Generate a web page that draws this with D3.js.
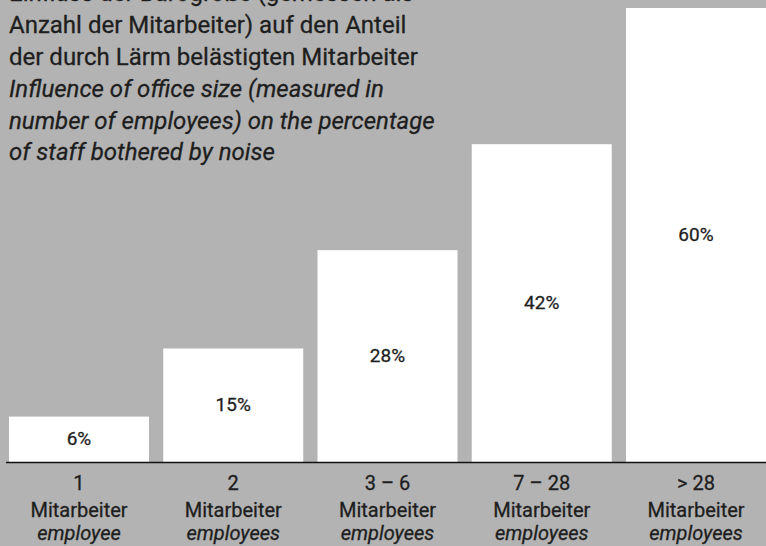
<!DOCTYPE html>
<html lang="de">
<head>
<meta charset="UTF-8">
<title>Bürogröße und Lärm</title>
<script src="https://d3js.org/d3.v7.min.js"></script>
<style>
  body { margin: 0; background: #b3b3b3; }
  text { font-family: Roboto, "DejaVu Sans", sans-serif; fill: #1e1e1e; stroke: #1e1e1e; stroke-width: 0.3px; }
</style>
</head>
<body>
<svg width="766" height="546"></svg>
<script>
// data
let sizes = ["1", "2", "3 – 6", "7 – 28", "> 28"];
let unitDe = ["Mitarbeiter", "Mitarbeiter", "Mitarbeiter", "Mitarbeiter", "Mitarbeiter"];
let unitEn = ["employee", "employees", "employees", "employees", "employees"];
let percent = [6, 15, 28, 42, 60];

let titleDe = [
  "Einfluss der Bürogröße (gemessen als",
  "Anzahl der Mitarbeiter) auf den Anteil",
  "der durch Lärm belästigten Mitarbeiter"
];
let titleEn = [
  "Influence of office size (measured in",
  "number of employees) on the percentage",
  "of staff bothered by noise"
];

let svg = d3.select("svg");
svg.append("rect").attr("width", 766).attr("height", 546).attr("fill", "#b3b3b3");

let x = d3.scaleBand().domain(sizes).range([9, 766]).paddingInner(0.0924).paddingOuter(0);
let y = d3.scaleLinear().domain([0, 60]).range([462, 8]);

let rows = sizes.map((s, i) => ({ size: s, de: unitDe[i], en: unitEn[i], v: percent[i] }));

let bars = svg.append("g").selectAll("g").data(rows).enter().append("g");

bars.append("rect")
  .attr("x", d => x(d.size))
  .attr("y", d => y(d.v))
  .attr("width", x.bandwidth())
  .attr("height", d => y(0) - y(d.v))
  .attr("fill", "#fff");

bars.append("text")
  .attr("x", d => x(d.size) + x.bandwidth() / 2)
  .attr("y", d => (y(d.v) + y(0)) / 2 + 6)
  .attr("text-anchor", "middle")
  .style("font-size", "19px")
  .text(d => d.v + "%");

// baseline
svg.append("line")
  .attr("x1", 6).attr("x2", 766)
  .attr("y1", y(0) + 0.5).attr("y2", y(0) + 0.5)
  .attr("stroke", "#111").attr("stroke-width", 1.6);

// category labels
let lab = svg.append("g").selectAll("text").data(rows).enter().append("text")
  .attr("text-anchor", "middle")
  .attr("transform", d => `translate(${x(d.size) + x.bandwidth() / 2},0)`)
  .style("font-size", "20px");
lab.append("tspan").attr("x", 0).attr("y", 490).text(d => d.size);
lab.append("tspan").attr("x", 0).attr("y", 517).text(d => d.de);
lab.append("tspan").attr("x", 0).attr("y", 540).style("font-style", "italic").text(d => d.en);

// title
let title = svg.append("text").attr("x", 9).style("font-size", "24px");
titleDe.forEach((t, i) => {
  title.append("tspan").attr("x", 9).attr("y", 1 + i * 32).text(t);
});
titleEn.forEach((t, i) => {
  title.append("tspan").attr("x", 9).attr("y", 97 + i * 31.5)
    .style("font-style", "italic").text(t);
});
</script>
</body>
</html>
